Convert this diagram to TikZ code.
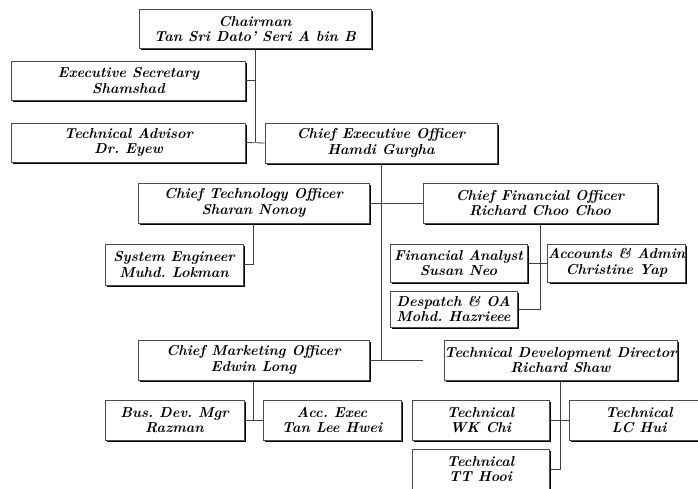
\documentclass[tikz,border=0pt]{standalone}
\usepackage{xcolor}
\usepackage{tikz}
\usetikzlibrary{shadows,positioning}

\tikzset{
  post/.style={draw=black!70, line width=0.5pt, fill=white, align=center,
    inner sep=0pt, minimum height=39*0.75pt, minimum width=232*0.75pt,
    font=\fontsize{10.8}{11.6}\selectfont\bfseries\itshape\frenchspacing,
    drop shadow={shadow xshift=1.4pt, shadow yshift=-1.4pt, opacity=1, fill=black}},
  boxw/.style={minimum width=#1*0.75pt},
  boxh/.style={minimum height=#1*0.75pt},
  link/.style={draw=black!75, line width=0.6pt},
}

\begin{document}
\begin{tikzpicture}[x=0.75pt,y=0.75pt,yscale=-1,xscale=1]
\clip (0,0) rectangle (698,488);
\fill[white] (0,0) rectangle (698,488);

%Shape: Board
\node [post] (chairman) at (255,29) {Chairman\\Tan Sri Dato' Seri A bin B};
\node [post, boxw=234] (execsec) at (128.5,80.5) {Executive Secretary\\Shamshad};
\node [post, boxw=234] (techadv) at (128.5,142.5) {Technical Advisor\\Dr. Eyew};
\node [post, boxh=40] (ceo) at (381,143) {Chief Executive Officer\\Hamdi Gurgha};

%Shape: Chiefs
\node [post, boxh=40, boxw=231] (cto) at (253.5,203) {Chief Technology Officer\\Sharan Nonoy};
\node [post, boxh=40, boxw=234] (cfo) at (540,203) {Chief Financial Officer\\Richard Choo Choo};
\node [post, boxh=40, boxw=231] (cmo) at (253.5,360) {Chief Marketing Officer\\Edwin Long};
\node [post, boxh=40, boxw=233] (tdd) at (560.5,360) {Technical Development Director\\Richard Shaw};

%Shape: Staff
\node [post, boxh=41, boxw=138] (syseng) at (174,264.5) {System Engineer\\Muhd. Lokman};
\node [post, boxh=38, boxw=137] (finan) at (458.5,263) {Financial Analyst\\Susan Neo};
\node [post, boxh=38, boxw=137] (accadm) at (616.5,263) {Accounts \& Admin\\Christine Yap};
\node [post, boxh=36, boxw=127] (despatch) at (453.5,309) {Despatch \& OA\\Mohd. Hazrieee};
\node [post, boxh=40, boxw=139] (busdev) at (174.5,420) {Bus. Dev. Mgr\\Razman};
\node [post, boxh=40, boxw=138] (accexec) at (332,420) {Acc. Exec\\Tan Lee Hwei};
\node [post, boxh=40, boxw=137] (wkchi) at (480.5,420) {Technical\\WK Chi};
\node [post, boxh=40, boxw=140] (lchui) at (639,420) {Technical\\LC Hui};
\node [post, boxh=40, boxw=137] (tthooi) at (480.5,469) {Technical\\TT Hooi};

\coordinate (tddgap) at (423,360);

%Straight Lines
\draw [link] (chairman.south) -- (chairman.south |- techadv.east) ;
\draw [link] (execsec.east) -- (chairman.south |- execsec.east) ;
\draw [link] (techadv.east) -- (ceo.west) ;
\draw [link] (ceo.south) -- (ceo.south |- cmo.east) ;
\draw [link] (cto.east) -- (cfo.west) ;
\draw [link] (cmo.east) -- (tddgap) ;
\draw [link] (cto.south) -- (cto.south |- syseng.east) -- (syseng.east) ;
\draw [link] (cfo.south) -- (cfo.south |- despatch.east) -- (despatch.east) ;
\draw [link] (finan.east) -- (accadm.west) ;
\draw [link] (cmo.south) -- (cmo.south |- busdev.east) ;
\draw [link] (busdev.east) -- (accexec.west) ;
\draw [link] (tdd.south) -- (tdd.south |- tthooi.east) -- (tthooi.east) ;
\draw [link] (wkchi.east) -- (lchui.west) ;

\end{tikzpicture}
\end{document}
